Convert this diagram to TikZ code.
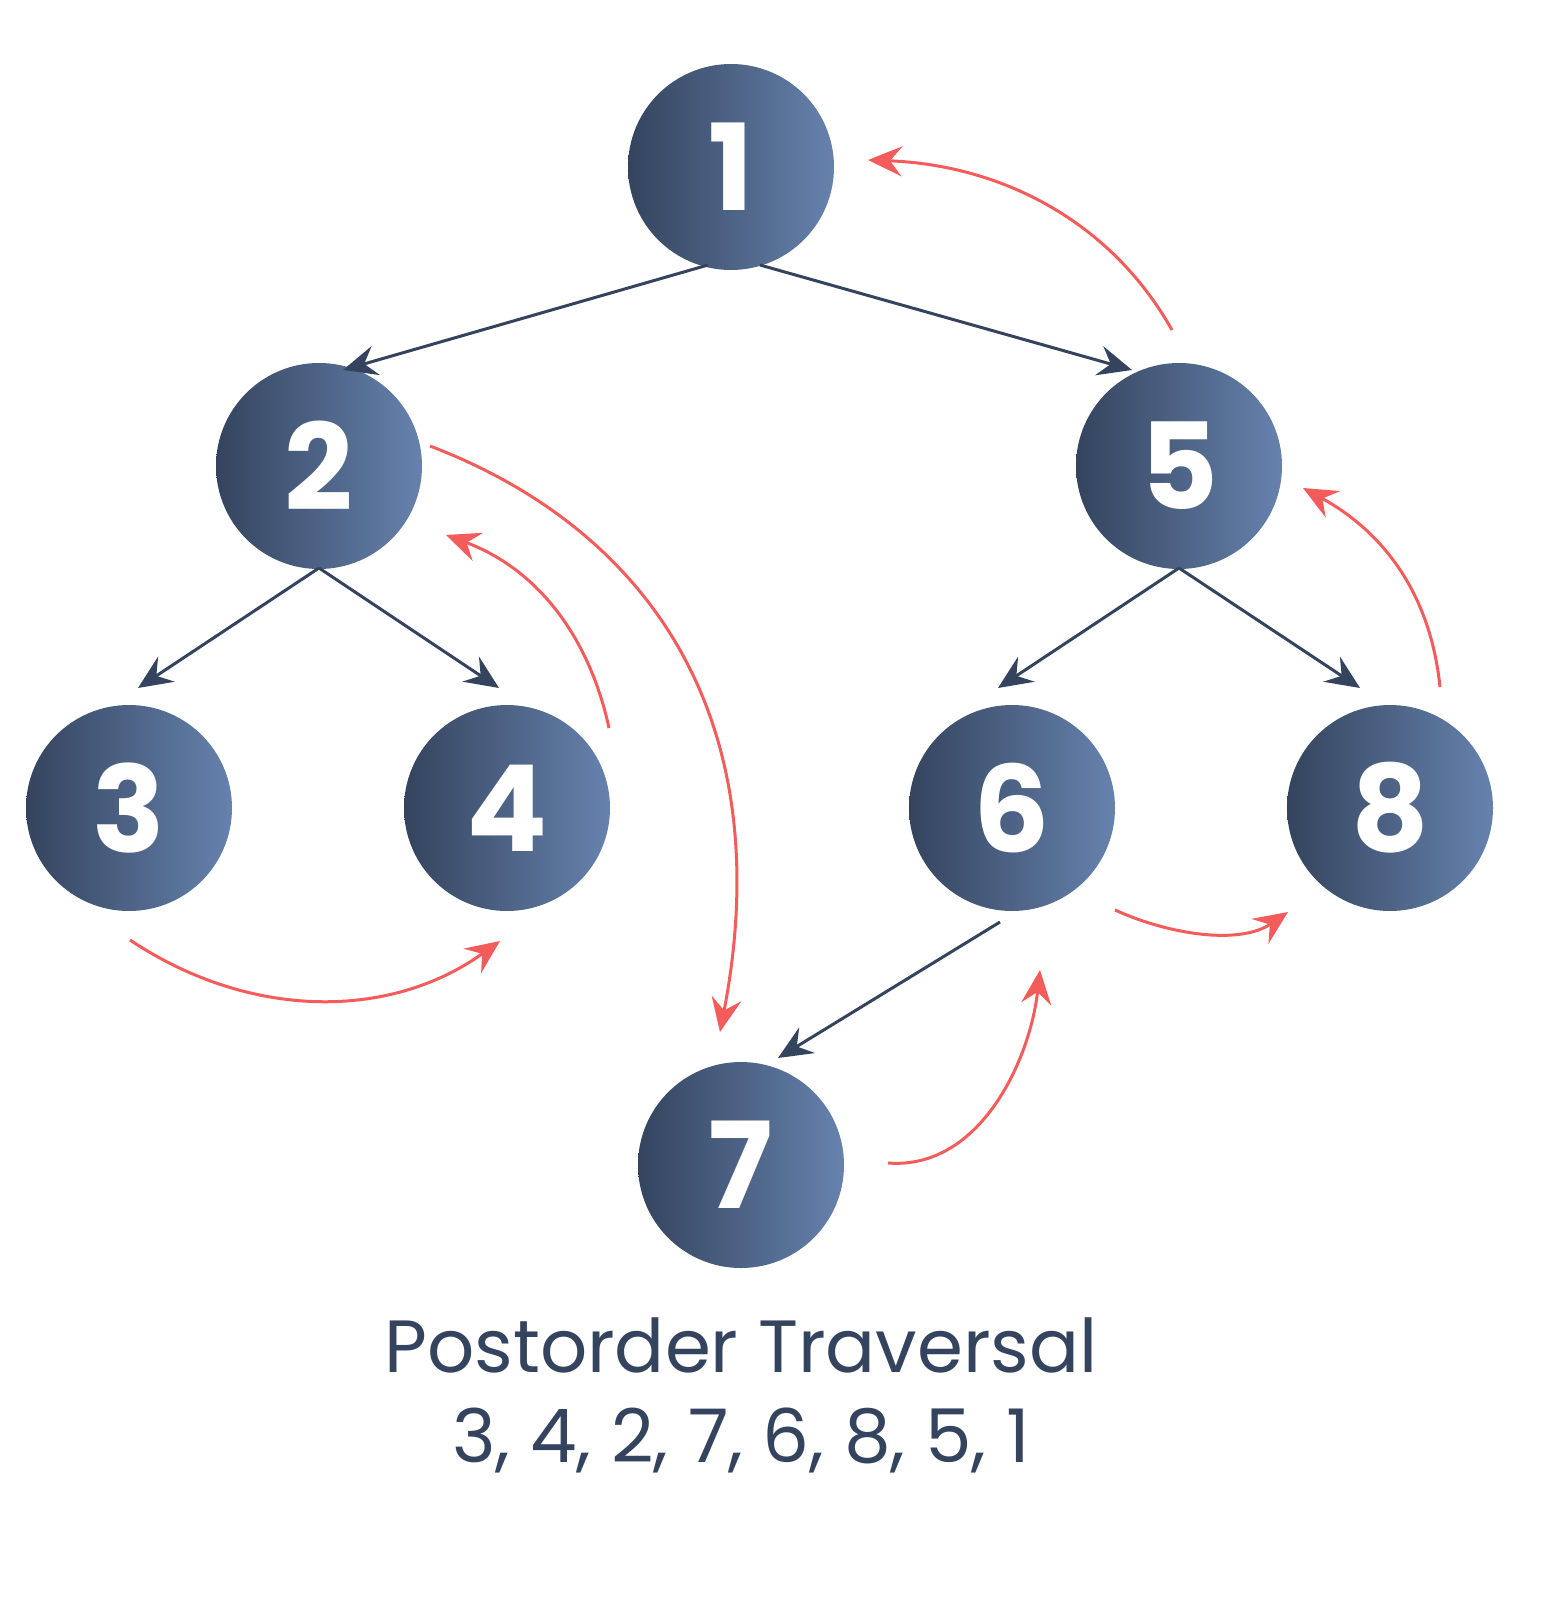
\documentclass[tikz,border=0pt]{standalone}
\usepackage{fontspec}
\setmainfont{Poppins}
\usetikzlibrary{arrows.meta}
\definecolor{navy}{HTML}{34445E}
\definecolor{navyR}{HTML}{6682AD}
\definecolor{redA}{HTML}{F45B5B}
\begin{document}
\begin{tikzpicture}[x=1pt,y=-1pt,
  tnode/.style={circle,minimum size=206pt,inner sep=0pt,left color=navy,right color=navyR,text=white,font=\fontsize{120}{120}\selectfont\bfseries},
  edge/.style={draw=navy,line width=3pt,-{Stealth[length=34pt,width=30pt,inset=12pt]}},
  trav/.style={draw=redA,line width=3pt,-{Stealth[length=34pt,width=30pt,inset=12pt]}}]
\useasboundingbox (0,0) rectangle (1551,1600);
\node[tnode] (n1) at (731,167) {1};
\node[tnode] (n2) at (319,466) {2};
\node[tnode] (n5) at (1179,466) {5};
\node[tnode] (n3) at (129,808) {3};
\node[tnode] (n4) at (507,808) {4};
\node[tnode] (n6) at (1012,808) {6};
\node[tnode] (n8) at (1390,808) {8};
\node[tnode] (n7) at (741,1165) {7};
% tree edges
\coordinate (t1a) at (708,265); \coordinate (t1b) at (760,265);
\coordinate (h2) at (343,370); \coordinate (h5) at (1132,370);
\coordinate (b2) at (319,568); \coordinate (b5) at (1179,568);
\coordinate (h3) at (138,688); \coordinate (h4) at (499,688);
\coordinate (h6) at (998,688); \coordinate (h8) at (1360,688);
\coordinate (s6) at (1000,922); \coordinate (h7) at (778,1058);
\draw[edge] (t1a) -- (h2);
\draw[edge] (t1b) -- (h5);
\draw[edge] (b2) -- (h3);
\draw[edge] (b2) -- (h4);
\draw[edge] (b5) -- (h6);
\draw[edge] (b5) -- (h8);
\draw[edge] (s6) -- (h7);
% traversal
\coordinate (r1s) at (130,940); \coordinate (r1e) at (500,941);
\draw[trav] (r1s) .. controls (250,1020) and (390,1020) .. (r1e);
\coordinate (r2s) at (609,728); \coordinate (r2e) at (446,535);
\draw[trav] (r2s) .. controls (590,640) and (540,570) .. (r2e);
\coordinate (r3s) at (430,446); \coordinate (r3e) at (720,1032);
\draw[trav] (r3s) .. controls (650,530) and (780,720) .. (r3e);
\coordinate (r4s) at (888,1163); \coordinate (r4e) at (1040,970);
\draw[trav] (r4s) .. controls (980,1170) and (1030,1060) .. (r4e);
\coordinate (r5s) at (1115,910); \coordinate (r5e) at (1288,912);
\draw[trav] (r5s) .. controls (1170,935) and (1240,945) .. (r5e);
\coordinate (r6s) at (1440,687); \coordinate (r6e) at (1303,488);
\draw[trav] (r6s) .. controls (1430,590) and (1380,530) .. (r6e);
\coordinate (r7s) at (1172,330); \coordinate (r7e) at (868,160);
\draw[trav] (r7s) .. controls (1110,220) and (1000,165) .. (r7e);
\node[text=navy,font=\fontsize{74}{90}\selectfont,align=center] (cap) at (741,1395) {Postorder Traversal\\3, 4, 2, 7, 6, 8, 5, 1};
\end{tikzpicture}
\end{document}
